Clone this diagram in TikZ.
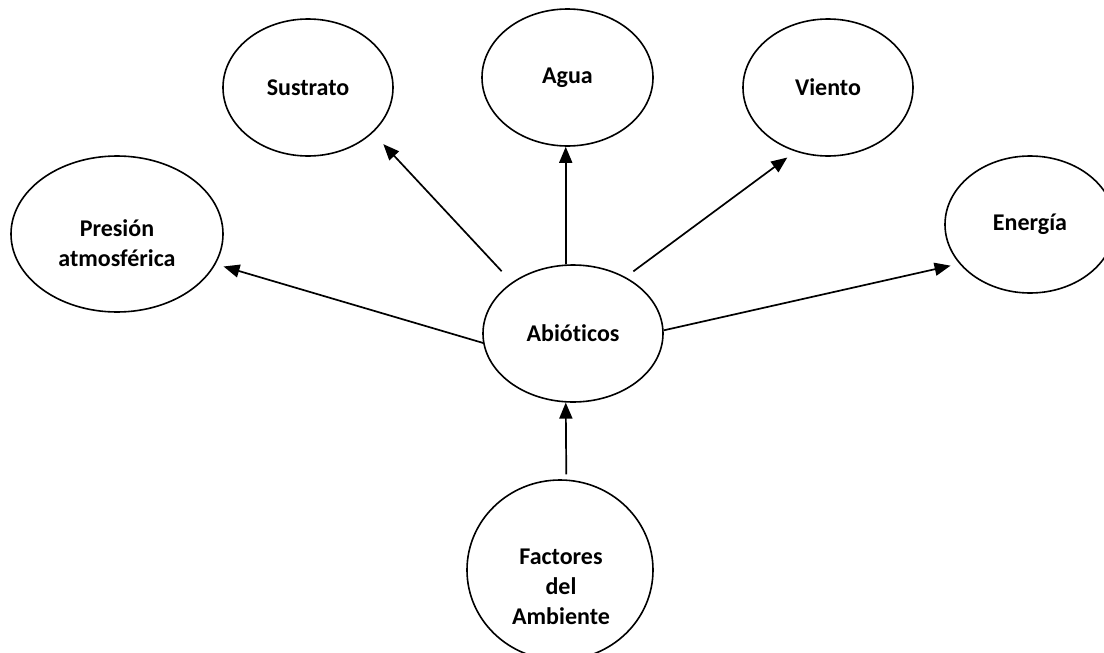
\documentclass[tikz,border=0pt]{standalone}
\usepackage{fontspec}
\setmainfont{Carlito}[Ligatures={NoCommon}]
\usetikzlibrary{arrows.meta,shapes.geometric}

\begin{document}
\begin{tikzpicture}[
		x=0.5pt, y=-0.5pt,
		every node/.style={font=\fontsize{12}{15}\selectfont\bfseries, align=center},
		bubble/.style={ellipse, draw, line width=0.8pt, inner sep=0pt},
		flecha/.style={-{Triangle[length=8pt,width=6.5pt]}, line width=0.85pt}
		]
		\useasboundingbox (0,0) rectangle (1104,653);
		\node[bubble, minimum width=85pt, minimum height=68.5pt] (sustrato) at (308,87.5) {Sustrato};
		\node[bubble, minimum width=85.5pt, minimum height=68.5pt] (agua) at (567.5,77.5) {Agua};
		\node[bubble, minimum width=85pt, minimum height=68.5pt] (viento) at (828,87.5) {Viento};
		\node[bubble, minimum width=106pt, minimum height=78pt] (presion) at (117,234) {};
		\node (presiontxt) at (117,243) {Presión\\atmosférica};
		\node[bubble, minimum width=85pt, minimum height=68.5pt] (energia) at (1030,224.5) {Energía};
		\node[bubble, minimum width=90pt, minimum height=68.5pt] (abio) at (573,333.5) {Abióticos};
		\node[bubble, minimum width=93pt, minimum height=90pt] (factores) at (560,570) {};
		\node (factorestxt) at (561,587) {Factores\\del\\Ambiente};
		% flechas
		\draw[flecha, shorten <=7.5pt, shorten >=7.7pt] (abio.140) -- (sustrato.325);
		\draw[flecha] (abio.96) -- (abio.96 |- agua.south);
		\draw[flecha, shorten <=4.8pt, shorten >=5pt] (abio.47) -- (viento.243);
		\draw[flecha, shorten >=4.1pt] (abio.186) -- (presion.343);
		\draw[flecha, shorten >=4.45pt] (abio.2) -- (energia.209);
		\draw[flecha, shorten <=2.5pt] (factores.86) -- (abio.264);
\end{tikzpicture}
\end{document}
